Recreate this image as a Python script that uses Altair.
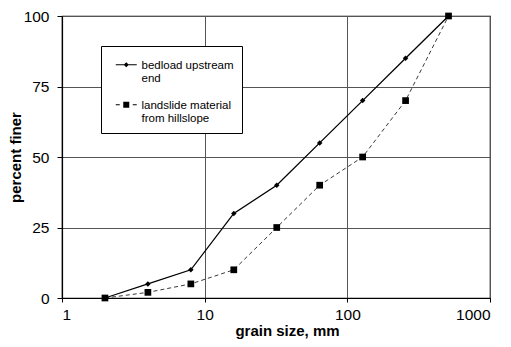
import altair as alt
import pandas as pd

grain_mm = [2, 4, 8, 16, 32, 64, 128, 256, 512]
bedload = [0, 5, 10, 30, 40, 55, 70, 85, 100]
landslide = [0, 2, 5, 10, 25, 40, 50, 70, 100]
series_names = ["bedload upstream|end", "landslide material|from hillslope"]
x_ticks = [1, 10, 100, 1000]
y_ticks = [0, 25, 50, 75, 100]

rows = []
for g, v in zip(grain_mm, bedload):
    rows.append({"grain": g, "pct": v, "series": series_names[0]})
for g, v in zip(grain_mm, landslide):
    rows.append({"grain": g, "pct": v, "series": series_names[1]})
df = pd.DataFrame(rows)

FONT = "Liberation Sans"

x_enc = alt.X("grain:Q", scale=alt.Scale(type="log", domain=[1, 1000]),
              axis=alt.Axis(values=x_ticks, format="d", title="grain size, mm",
                            grid=True, tickSize=4, labelPadding=5,
                            titleX=225, titleY=32, titleBaseline="middle"))
y_enc = alt.Y("pct:Q", scale=alt.Scale(domain=[0, 100]),
              axis=alt.Axis(values=y_ticks, title="percent finer", grid=True,
                            tickSize=5, labelPadding=8,
                            titleX=-47, titleBaseline="middle"))

base = alt.Chart(df)

line_solid = base.transform_filter(alt.datum.series == series_names[0]).mark_line(
    color="black", strokeWidth=1.3).encode(x=x_enc, y=y_enc)
line_dash = base.transform_filter(alt.datum.series == series_names[1]).mark_line(
    color="#222", strokeWidth=0.9, strokeDash=[4, 3]).encode(x=x_enc, y=y_enc)

# legend symbols (symbolSize=4 -> 1 path unit = 1px): line segments as thin
# filled bars plus the marker, placed on the first text line of the label
cy = 5
hw = 0.5


def bar(x0, x1):
    return f"M{x0},{cy - hw}L{x1},{cy - hw}L{x1},{cy + hw}L{x0},{cy + hw}Z"


def square(cx, r):
    return f"M{cx - r},{cy - r}L{cx + r},{cy - r}L{cx + r},{cy + r}L{cx - r},{cy + r}Z"


def diamond(cx, r):
    return f"M{cx},{cy - r}L{cx + r},{cy}L{cx},{cy + r}L{cx - r},{cy}Z"


path_diamond = bar(1, 22) + diamond(11.5, 2.6)
path_square = bar(1, 5) + bar(18, 22) + square(11.5, 3)

legend = alt.Legend(
    title=None, orient="none", legendX=39, legendY=30,
    labelExpr="split(datum.label, '|')",
    labelFont=FONT, labelFontSize=11.5, labelColor="black",
    labelBaseline="top", labelOffset=21,
    symbolSize=4, symbolOpacity=1,
    symbolStrokeColor="black", symbolFillColor="black",
    strokeColor="black", fillColor="white", padding=8, rowPadding=9,
)

# invisible layer that only carries the legend (line + marker symbols)
legend_layer = base.mark_point(filled=True, opacity=0, fill="black").encode(
    x=x_enc, y=y_enc,
    shape=alt.Shape("series:N", scale=alt.Scale(domain=series_names,
                                                range=[path_diamond, path_square]),
                    legend=legend),
)

points = base.mark_point(filled=True, opacity=1, color="black").encode(
    x=x_enc, y=y_enc,
    shape=alt.Shape("series:N", scale=alt.Scale(domain=series_names, range=["diamond", "square"]),
                    legend=None),
    size=alt.Size("series:N", scale=alt.Scale(domain=series_names, range=[30, 45]), legend=None),
)

chart = alt.layer(line_dash, line_solid, points, legend_layer).resolve_scale(
    shape="independent"
).properties(
    width=428, height=282,
    autosize=alt.AutoSizeParams(type="none"),
    padding={"left": 54, "top": 8, "right": 13, "bottom": 41},
).configure_view(stroke="black", strokeWidth=1.2).configure_axis(
    labelFont=FONT, labelFontSize=15.5, labelColor="black",
    titleFont=FONT, titleFontSize=15, titleFontWeight="bold", titleColor="black",
    domainColor="black", domainWidth=1.2, tickColor="black",
    gridColor="#555", gridWidth=1, gridOpacity=1,
)

chart.save("out.html", embed_options={"renderer": "svg", "actions": False})
